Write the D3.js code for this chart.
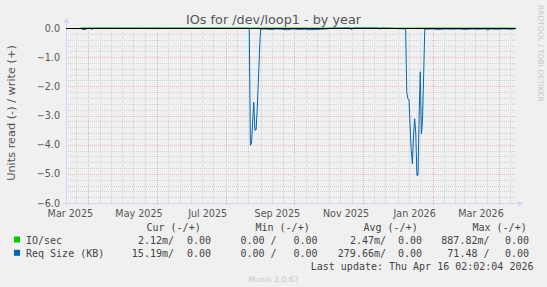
<!DOCTYPE html>
<html><head><meta charset="utf-8">
<script src="https://cdn.jsdelivr.net/npm/d3@7"></script>
<style>body{margin:0;background:#f0f0f0;}svg{display:block;}</style>
</head><body>
<script>
// ---- data ----
const title = "IOs for /dev/loop1 - by year";
const yAxisTitle = "Units read (-) / write (+)";
const yTicks = [0, -1, -2, -3, -4, -5, -6];
const xLabels = ["Mar 2025","May 2025","Jul 2025","Sep 2025","Nov 2025","Jan 2026","Mar 2026"];
const xLabelDates = ["2025-03-16","2025-05-16","2025-07-16","2025-09-16","2025-11-16","2026-01-16","2026-03-16"];
const majorGridDates = ["2025-04-01","2025-06-01","2025-08-01","2025-10-01","2025-12-01","2026-02-01","2026-04-01"];

// Req Size (KB) read values (negative side), daily averages
const reqDates = ["2025-03-25","2025-03-27","2025-03-28","2025-03-29","2025-03-30","2025-03-31","2025-04-03","2025-04-04","2025-04-05",
 "2025-08-22","2025-08-23","2025-08-24","2025-08-25","2025-08-26","2025-08-27","2025-08-28","2025-08-29","2025-08-30","2025-08-31",
 "2025-09-01","2025-09-05","2025-09-10","2025-09-15","2025-09-20","2025-09-25","2025-09-30","2025-10-05","2025-10-10","2025-10-15","2025-10-20","2025-10-25","2025-10-30",
 "2025-11-03","2025-11-20","2025-11-21","2025-11-22","2025-12-15","2025-12-16","2025-12-17","2026-01-08",
 "2026-01-09","2026-01-10","2026-01-11","2026-01-12","2026-01-13","2026-01-14","2026-01-15","2026-01-16","2026-01-17","2026-01-18","2026-01-19","2026-01-20","2026-01-21","2026-01-22","2026-01-23","2026-01-24","2026-01-25",
 "2026-02-01","2026-02-06","2026-02-12","2026-02-18","2026-02-24","2026-03-02","2026-03-08","2026-03-14","2026-03-20","2026-03-22","2026-03-24","2026-03-30","2026-04-05","2026-04-10","2026-04-15"];
const reqRead = [-0.01,-0.05,-0.06,-0.04,-0.05,-0.01,-0.01,-0.06,-0.01,
 -0.01,-4.02,-3.95,-3.2,-2.55,-3.5,-3.5,-2.85,-1.9,-0.9,
 -0.04,-0.03,-0.05,-0.03,-0.04,-0.06,-0.03,-0.05,-0.04,-0.06,-0.05,-0.04,-0.03,
 -0.005,0,-0.06,0,0,-0.04,0,-0.03,
 -2.2,-2.42,-2.47,-3.4,-4.2,-4.66,-3.7,-3.11,-3.6,-5.05,-5.05,-3.0,-1.5,-3.62,-3.2,-1.6,-0.04,
 -0.03,-0.05,-0.03,-0.04,-0.03,-0.05,-0.03,-0.04,-0.03,-0.08,-0.03,-0.04,-0.03,-0.04,-0.03];
// IO/sec read values (tiny)
const ioDates = ["2025-03-25","2025-08-23","2025-09-01","2026-01-12","2026-01-25","2026-04-15"];
const ioRead = [-0.001,-0.003,-0.001,-0.004,-0.001,-0.002];

const legendRows = [
  {name:"IO/sec", color:"#00cc00", vals:["2.12m/","0.00","0.00 /","0.00","2.47m/","0.00","887.82m/","0.00"]},
  {name:"Req Size (KB)", color:"#0066b3", vals:["15.19m/","0.00","0.00 /","0.00","279.66m/","0.00","71.48 /","0.00"]}
];
const legendHeaders = ["Cur (-/+)","Min (-/+)","Avg (-/+)","Max (-/+)"];
const lastUpdate = "Last update: Thu Apr 16 02:02:04 2026";
const munin = "Munin 2.0.67";
const rrdtoolText = "RRDTOOL / TOBI OETIKER";

// ---- drawing ----
const W = 547, H = 287;
const L = 66, R = 516, T = 28, B = 203;
const parse = d3.timeParse("%Y-%m-%d");
const end = new Date(2026, 3, 16, 2, 2, 4);
const start = new Date(end.getTime() - 400*86400000);
const x = d3.scaleTime().domain([start, end]).range([L, R]);
const y = d3.scaleLinear().domain([-6, 0]).range([B, T]);

const svg = d3.select("body").append("svg").attr("width", W).attr("height", H);
svg.append("rect").attr("width", W).attr("height", H).attr("fill", "#f0f0f0");

const minorCol = "#d2d2d2", majorCol = "#ecb4b4";
const g = svg.append("g");
// minor horizontal grid
const minorY = d3.range(-6, 0.001, 0.2).filter(v => Math.abs(v - Math.round(v)) > 0.01);
g.selectAll(".hmin").data(minorY).enter().append("line")
  .attr("x1", L).attr("x2", R).attr("y1", d => Math.round(y(d))+0.5).attr("y2", d => Math.round(y(d))+0.5)
  .attr("stroke", minorCol).attr("stroke-dasharray", "1,1");
// minor vertical grid (days 1, 11, 21)
const minorDays = d3.timeDay.every(10).range(start, end).filter(d => d.getDate() < 31);
g.selectAll(".vmin").data(minorDays).enter().append("line")
  .attr("x1", d => Math.round(x(d))+0.5).attr("x2", d => Math.round(x(d))+0.5).attr("y1", T).attr("y2", B)
  .attr("stroke", minorCol).attr("stroke-dasharray", "1,1");
// major grid
g.selectAll(".hmaj").data(yTicks).enter().append("line")
  .attr("x1", L).attr("x2", R).attr("y1", d => Math.round(y(d))+0.5).attr("y2", d => Math.round(y(d))+0.5)
  .attr("stroke", majorCol).attr("stroke-dasharray", "1,1");
g.selectAll(".vmaj").data(majorGridDates.map(parse)).enter().append("line")
  .attr("x1", d => Math.round(x(d))+0.5).attr("x2", d => Math.round(x(d))+0.5).attr("y1", T).attr("y2", B+2)
  .attr("stroke", majorCol).attr("stroke-dasharray", "1,1");

// axes
const axisColor = "#cfd6f8";
svg.append("line").attr("x1", L-3).attr("x2", R+3).attr("y1", B+0.5).attr("y2", B+0.5).attr("stroke", axisColor);
svg.append("path").attr("d", `M${R+7},${B+0.5} L${R+2},${B-2.5} L${R+2},${B+3.5} Z`).attr("fill", axisColor);
svg.append("line").attr("x1", L+0.5).attr("x2", L+0.5).attr("y1", B+3).attr("y2", T-6).attr("stroke", axisColor);
svg.append("path").attr("d", `M${L+0.5},${T-10} L${L-2.5},${T-5} L${L+3.5},${T-5} Z`).attr("fill", axisColor);

// y tick labels
svg.selectAll(".ylab").data(yTicks).enter().append("text")
  .attr("x", L-6).attr("y", d => y(d)+3.5).attr("text-anchor", "end")
  .attr("font-family", "DejaVu Sans").attr("font-size", "9.6px").attr("fill", "#555")
  .text(d => d3.format(".1f")(d));
// x labels
svg.selectAll(".xlab").data(xLabels).enter().append("text")
  .attr("x", (d,i) => x(parse(xLabelDates[i]))).attr("y", 216.5).attr("text-anchor", "middle")
  .attr("font-family", "DejaVu Sans").attr("font-size", "9.6px").attr("fill", "#555")
  .text(d => d);

// data lines
const line = d3.line().x(d => x(d[0])).y(d => y(d[1]));
const ioPts = ioDates.map((d,i) => [parse(d), ioRead[i]]);
const reqPts = reqDates.map((d,i) => [parse(d), reqRead[i]]);
svg.append("path").attr("d", line(ioPts)).attr("fill", "none").attr("stroke", "#00cc00").attr("stroke-width", 1);
svg.append("path").attr("d", line(reqPts)).attr("fill", "none").attr("stroke", "#0066b3").attr("stroke-width", 1);
// zero line on top
svg.append("line").attr("x1", L).attr("x2", R).attr("y1", y(0)+0.5).attr("y2", y(0)+0.5).attr("stroke", "#000").attr("stroke-width", 1);

// title
svg.append("text").attr("x", 273.5).attr("y", 24).attr("text-anchor", "middle")
  .attr("font-family", "DejaVu Sans").attr("font-size", "12.8px").attr("fill", "#555").text(title);
// y axis title
svg.append("text").attr("transform", "translate(15,113) rotate(-90)").attr("text-anchor", "middle")
  .attr("font-family", "DejaVu Sans").attr("font-size", "11.3px").attr("fill", "#555").text(yAxisTitle);
// rrdtool watermark
svg.append("text").attr("transform", "translate(538,5) rotate(90)").attr("text-anchor", "start")
  .attr("font-family", "DejaVu Sans").attr("font-size", "7.5px").attr("fill", "#c8c8c8").text(rrdtoolText);

// legend
const mono = "DejaVu Sans Mono";
const hdrX = [146.5, 255.5, 363.5, 472.5];
svg.selectAll(".hdr").data(legendHeaders).enter().append("text")
  .attr("x", (d,i) => hdrX[i]).attr("y", 231).attr("font-family", mono).attr("font-size", "10px").attr("fill", "#444")
  .attr("xml:space", "preserve").text(d => d);
const valEnd = [174, 211, 276.5, 317.5, 386, 422, 489.5, 529];
legendRows.forEach((r, ri) => {
  const yy = 243.5 + ri*13.3;
  svg.append("rect").attr("x", 14).attr("y", yy-7).attr("width", 6).attr("height", 6).attr("fill", r.color);
  svg.append("text").attr("x", 26).attr("y", yy).attr("font-family", mono).attr("font-size", "10px").attr("fill", "#444").text(r.name);
  svg.selectAll(null).data(r.vals).enter().append("text")
    .attr("x", (d,i) => valEnd[i]).attr("y", yy).attr("text-anchor", "end")
    .attr("font-family", mono).attr("font-size", "10px").attr("fill", "#444")
    .attr("xml:space", "preserve").text(d => d);
});
svg.append("text").attr("x", 533.5).attr("y", 269.5).attr("text-anchor", "end")
  .attr("font-family", mono).attr("font-size", "10px").attr("fill", "#444").text(lastUpdate);
svg.append("text").attr("x", 273.5).attr("y", 281.5).attr("text-anchor", "middle")
  .attr("font-family", "DejaVu Sans").attr("font-size", "7.7px").attr("fill", "#c8c8c8").text(munin);
</script>
</body></html>
